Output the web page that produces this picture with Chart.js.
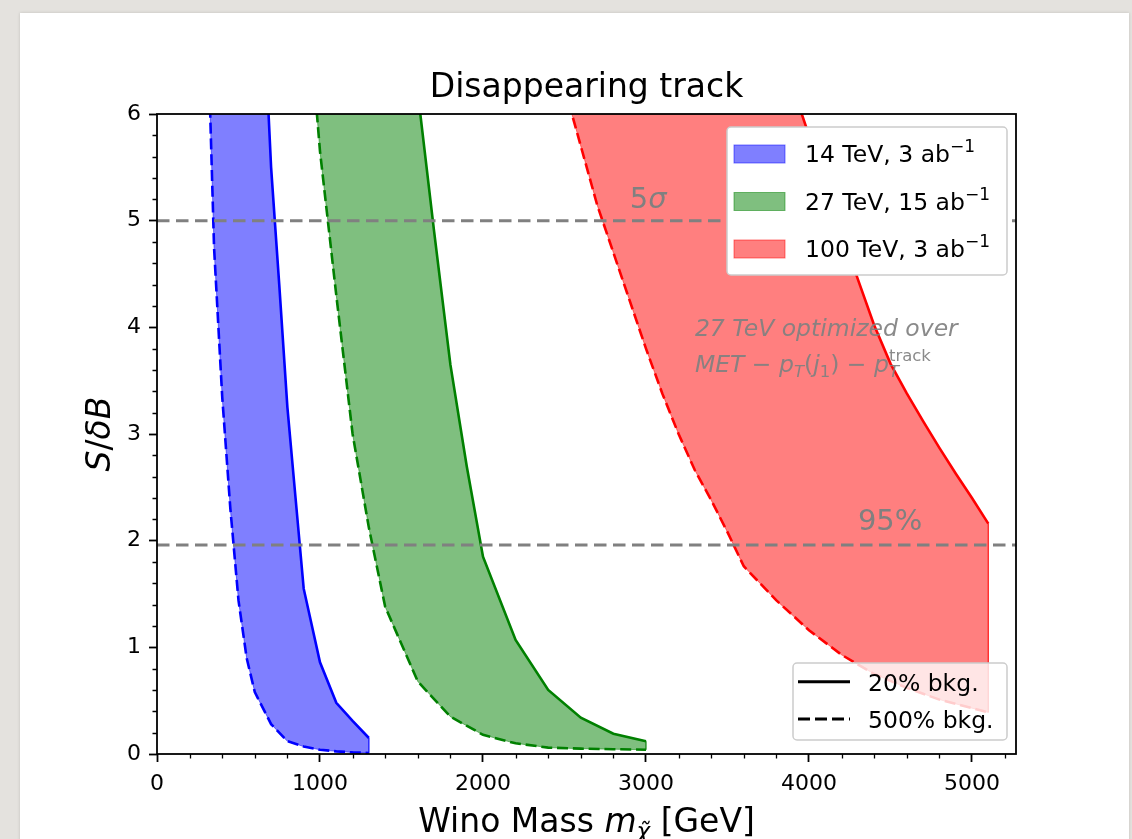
<!DOCTYPE html>
<html>
<head>
<meta charset="utf-8">
<title>Disappearing track</title>
<script src="https://cdn.jsdelivr.net/npm/chart.js@4.4.1/dist/chart.umd.min.js"></script>
<style>
  html, body { margin: 0; padding: 0; width: 1132px; height: 839px; overflow: hidden; background: #e4e2de; }
  #card { position: absolute; left: 20px; top: 13px; width: 1109px; height: 840px; background: #fff; box-shadow: 0 0 3px rgba(0,0,0,0.15); }
  #chart { position: absolute; left: 0; top: 0; }
</style>
</head>
<body>
<div id="card"></div>
<canvas id="chart" width="1132" height="839"></canvas>
<script>
// S/dB reach for the wino, one band per collider (20% bkg. solid, 500% bkg. dashed)

// 14 TeV, 3 ab^-1
const mass14Solid = [650, 700, 750, 800, 850, 900, 1000, 1100, 1200, 1300];
const sig14Solid = [7.1, 5.5, 4.4, 3.25, 2.4, 1.55, 0.86, 0.48, 0.31, 0.15];
const mass14Dashed = [300, 350, 400, 450, 500, 550, 600, 700, 800, 900, 1000, 1100, 1200, 1300];
const sig14Dashed = [7.4, 4.75, 3.35, 2.3, 1.44, 0.9, 0.58, 0.28, 0.12, 0.07, 0.04, 0.025, 0.015, 0.01];

// 27 TeV, 15 ab^-1
const mass27Solid = [1600, 1700, 1800, 1900, 2000, 2200, 2400, 2600, 2800, 3000];
const sig27Solid = [6.2, 4.9, 3.65, 2.7, 1.85, 1.07, 0.6, 0.34, 0.19, 0.12];
const mass27Dashed = [900, 1000, 1100, 1200, 1300, 1400, 1600, 1800, 2000, 2200, 2400, 2600, 2800, 3000];
const sig27Dashed = [7.5, 5.65, 4.3, 3.0, 2.12, 1.38, 0.68, 0.35, 0.18, 0.1, 0.06, 0.05, 0.045, 0.04];

// 100 TeV, 3 ab^-1
const mass100Solid = [3900, 4000, 4100, 4200, 4300, 4400, 4500, 4600, 4700, 4800, 4900, 5000, 5100];
const sig100Solid = [6.25, 5.8, 5.35, 4.9, 4.45, 4.02, 3.66, 3.38, 3.12, 2.87, 2.63, 2.4, 2.16];
const mass100Dashed = [2500, 2600, 2700, 2800, 2900, 3000, 3100, 3200, 3300, 3400, 3500, 3600, 3800, 4000, 4200, 4400, 4600, 4800, 5000, 5100];
const sig100Dashed = [6.25, 5.7, 5.15, 4.7, 4.25, 3.8, 3.38, 3.0, 2.66, 2.38, 2.08, 1.76, 1.44, 1.16, 0.93, 0.75, 0.62, 0.51, 0.43, 0.39];

const bandLabels = ['14 TeV, 3 ab', '27 TeV, 15 ab', '100 TeV, 3 ab'];
const bkgLabels = ['20% bkg.', '500% bkg.'];

// horizontal reference levels and their labels (label anchor in data units)
const refLevels = [5, 1.96];
const refLabels = ['5σ', '95%'];
const refLabelX = [2900, 4300];
const refLabelY = [5.12, 2.1];

const xTicks = [0, 1000, 2000, 3000, 4000, 5000];
const yTicks = [0, 1, 2, 3, 4, 5, 6];
const X_MAX = 5270, Y_MAX = 6;

const FONT = '"DejaVu Sans"';
const LINE_W = 2.6;
const DASH = [11, 4.8];

const pts = (xs, ys) => xs.map((x, i) => ({ x: x, y: ys[i] }));

const bands = [
  { solid: pts(mass14Solid, sig14Solid), dashed: pts(mass14Dashed, sig14Dashed), line: '#0000ff', fill: 'rgba(0,0,255,0.5)' },
  { solid: pts(mass27Solid, sig27Solid), dashed: pts(mass27Dashed, sig27Dashed), line: '#008000', fill: 'rgba(0,128,0,0.5)' },
  { solid: pts(mass100Solid, sig100Solid), dashed: pts(mass100Dashed, sig100Dashed), line: '#ff0000', fill: 'rgba(255,0,0,0.5)' }
];

const datasets = [];
bands.forEach(b => {
  // closed outline: 20% curve forward, 500% curve back
  datasets.push({
    data: b.solid.concat(b.dashed.slice().reverse()),
    fill: 'shape', backgroundColor: b.fill, borderColor: b.fill, borderWidth: 1,
    pointRadius: 0, tension: 0, order: 3
  });
  datasets.push({ data: b.solid, borderColor: b.line, borderWidth: LINE_W, fill: false, pointRadius: 0, tension: 0, order: 2 });
  datasets.push({ data: b.dashed, borderColor: b.line, borderWidth: LINE_W, borderDash: DASH, fill: false, pointRadius: 0, tension: 0, order: 2 });
});
refLevels.forEach(v => {
  datasets.push({
    data: [{ x: 0, y: v }, { x: X_MAX, y: v }],
    borderColor: '#808080', borderWidth: 3, borderDash: [12.5, 6.5], fill: false, pointRadius: 0, order: 1
  });
});

function font(size, italic) {
  return (italic ? 'italic ' : '') + size + 'px ' + FONT;
}

// draws a list of text runs (sub/superscripts via dy); hold = stack next run on top
function drawRuns(ctx, runs, x, y, measureOnly) {
  let cx = x, held = 0;
  runs.forEach(r => {
    ctx.font = font(r.s, r.i);
    if (!measureOnly) ctx.fillText(r.t, cx, y + (r.dy || 0));
    const w = ctx.measureText(r.t).width;
    if (r.hold) held = w;
    else { cx += Math.max(w, held); held = 0; }
  });
  return cx - x;
}

function roundBox(ctx, x, y, w, h, r) {
  ctx.beginPath();
  ctx.moveTo(x + r, y);
  ctx.arcTo(x + w, y, x + w, y + h, r);
  ctx.arcTo(x + w, y + h, x, y + h, r);
  ctx.arcTo(x, y + h, x, y, r);
  ctx.arcTo(x, y, x + w, y, r);
  ctx.closePath();
}

const decor = {
  id: 'decor',
  afterDatasetsDraw(chart) {
    const ctx = chart.ctx;
    const a = chart.chartArea;
    const xs = chart.scales.x, ys = chart.scales.y;
    ctx.save();

    // minor ticks
    ctx.strokeStyle = '#000';
    ctx.lineWidth = 1.3;
    ctx.beginPath();
    for (let k = 0; k * 200 <= X_MAX; k++) {
      if (k % 5 === 0) continue;
      const px = Math.round(xs.getPixelForValue(k * 200)) + 0.5;
      ctx.moveTo(px, a.bottom); ctx.lineTo(px, a.bottom + 4.5);
    }
    for (let k = 0; k <= 30; k++) {
      if (k % 5 === 0) continue;
      const py = Math.round(ys.getPixelForValue(k * 0.2)) + 0.5;
      ctx.moveTo(a.left, py); ctx.lineTo(a.left - 4.5, py);
    }
    ctx.stroke();

    // axes frame
    ctx.lineWidth = 1.8;
    ctx.strokeRect(a.left, a.top, a.right - a.left, a.bottom - a.top);

    ctx.textAlign = 'left';
    ctx.textBaseline = 'alphabetic';

    // reference labels
    ctx.fillStyle = '#808080';
    refLabels.forEach((t, i) => {
      const px = xs.getPixelForValue(refLabelX[i]);
      const py = ys.getPixelForValue(refLabelY[i]);
      if (t === '5σ') {
        drawRuns(ctx, [{ t: '5', s: 29 }, { t: 'σ', s: 29, i: true }], px, py);
      } else {
        drawRuns(ctx, [{ t: t, s: 29 }], px, py);
      }
    });

    // note on the 27 TeV selection
    ctx.fillStyle = 'rgba(128,128,128,0.92)';
    const nx = xs.getPixelForValue(3300);
    drawRuns(ctx, [{ t: '27 TeV optimized over', s: 23.5, i: true }], nx, ys.getPixelForValue(3.92));
    drawRuns(ctx, [
      { t: 'MET', s: 23.5, i: true }, { t: ' − ', s: 23.5 },
      { t: 'p', s: 23.5, i: true }, { t: 'T', s: 16.5, i: true, dy: 5 },
      { t: '(', s: 23.5 }, { t: 'j', s: 23.5, i: true }, { t: '1', s: 16.5, dy: 5 }, { t: ')', s: 23.5 },
      { t: ' − ', s: 23.5 },
      { t: 'p', s: 23.5, i: true }, { t: 'T', s: 16.5, i: true, dy: 5, hold: true }, { t: 'track', s: 16.5, dy: -11 }
    ], nx, ys.getPixelForValue(3.58));

    // title
    ctx.fillStyle = '#000';
    const cx = (a.left + a.right) / 2;
    ctx.textAlign = 'center';
    ctx.font = font(33, false);
    ctx.fillText('Disappearing track', cx, 97);
    ctx.textAlign = 'left';

    // x axis label
    const xRuns = [
      { t: 'Wino Mass ', s: 33 }, { t: 'm', s: 33, i: true }, { t: 'χ̃', s: 23, i: true, dy: 7 }, { t: ' [GeV]', s: 33 }
    ];
    const xw = drawRuns(ctx, xRuns, 0, 0, true);
    drawRuns(ctx, xRuns, cx - xw / 2, 832);

    // y axis label
    const yRuns = [{ t: 'S', s: 33, i: true }, { t: '/', s: 33 }, { t: 'δB', s: 33, i: true }];
    const yw = drawRuns(ctx, yRuns, 0, 0, true);
    ctx.save();
    ctx.translate(110, (a.top + a.bottom) / 2);
    ctx.rotate(-Math.PI / 2);
    drawRuns(ctx, yRuns, -yw / 2, 0);
    ctx.restore();

    // collider legend
    roundBox(ctx, 727, 127, 280, 148, 4);
    ctx.fillStyle = '#fff';
    ctx.fill();
    ctx.strokeStyle = '#cccccc';
    ctx.lineWidth = 1.5;
    ctx.stroke();
    bandLabels.forEach((lab, i) => {
      const cy = 154 + i * 47.5;
      ctx.fillStyle = bands[i].fill;
      ctx.fillRect(734, cy - 9, 51, 18);
      ctx.strokeStyle = bands[i].fill;
      ctx.lineWidth = 1;
      ctx.strokeRect(734, cy - 9, 51, 18);
      ctx.fillStyle = '#000';
      drawRuns(ctx, [{ t: lab, s: 23.5 }, { t: '−1', s: 17, dy: -10 }], 805, cy + 8);
    });

    // background-level legend
    roundBox(ctx, 793, 663, 214, 77, 4);
    ctx.fillStyle = 'rgba(255,255,255,0.8)';
    ctx.fill();
    ctx.strokeStyle = '#cccccc';
    ctx.lineWidth = 1.5;
    ctx.stroke();
    bkgLabels.forEach((lab, i) => {
      const cy = 681.7 + i * 37.3;
      ctx.strokeStyle = '#000';
      ctx.lineWidth = LINE_W + 0.4;
      ctx.setLineDash(i === 0 ? [] : [12, 5]);
      ctx.beginPath();
      ctx.moveTo(798, cy); ctx.lineTo(850, cy);
      ctx.stroke();
      ctx.setLineDash([]);
      ctx.fillStyle = '#000';
      drawRuns(ctx, [{ t: lab, s: 23.5 }], 868, cy + 9);
    });

    ctx.restore();
  }
};

Chart.defaults.font.family = FONT;

new Chart(document.getElementById('chart'), {
  type: 'line',
  data: { datasets: datasets },
  options: {
    responsive: false,
    animation: false,
    events: [],
    layout: { padding: { left: 0, top: 114, right: 116, bottom: 0 } },
    plugins: { legend: { display: false }, title: { display: false }, tooltip: { enabled: false } },
    scales: {
      x: {
        type: 'linear', min: 0, max: X_MAX,
        afterBuildTicks: s => { s.ticks = xTicks.map(v => ({ value: v })); },
        afterFit: s => { s.height = 85; },
        ticks: { font: { size: 22 }, color: '#000', padding: 9, maxRotation: 0, autoSkip: false, callback: v => String(v) },
        grid: { drawOnChartArea: false, tickLength: 8, tickWidth: 1.8, tickColor: '#000' },
        border: { display: false }
      },
      y: {
        type: 'linear', min: 0, max: Y_MAX,
        afterBuildTicks: s => { s.ticks = yTicks.map(v => ({ value: v })); },
        afterFit: s => { s.width = 157; },
        ticks: { font: { size: 22 }, color: '#000', padding: 8, autoSkip: false, callback: v => String(v) },
        grid: { drawOnChartArea: false, tickLength: 8, tickWidth: 1.8, tickColor: '#000' },
        border: { display: false }
      }
    }
  },
  plugins: [decor]
});
</script>
</body>
</html>
